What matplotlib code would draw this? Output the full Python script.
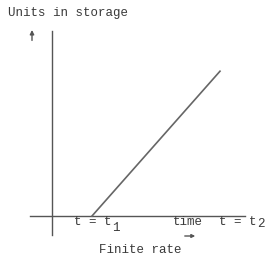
import matplotlib.pyplot as plt

# line of units in storage (finite rate)
t_vals = [1.0, 4.2]
units = [0.0, 3.62]

ink = '#555555'
txt = '#3a3a3a'
plt.rcParams['font.family'] = ['Liberation Mono', 'DejaVu Sans Mono']

fig = plt.figure(figsize=(2.76, 2.68), dpi=100)
ax = fig.add_axes([0, 0, 1, 1])
ax.set_xlim(-1.3, 5.6)
ax.set_ylim(-1.3, 5.4)
ax.axis('off')

# axes drawn by hand
ax.plot([0, 0], [-0.475, 4.625], color=ink, lw=1.0)
ax.plot([-0.55, 4.825], [0, 0], color=ink, lw=1.0)

ax.plot(t_vals, units, color='#666666', lw=1.2)

ax.text(-1.1, 5.075, 'Units in storage', fontsize=9, color=txt, va='center', ha='left')
ax.annotate('', xy=(-0.5, 4.72), xytext=(-0.5, 4.32),
            arrowprops=dict(arrowstyle='-|>', color=ink, lw=1.0, mutation_scale=6))

ax.text(0.55, -0.14, 't = t', fontsize=9, color=txt, va='center', ha='left')
ax.text(1.5, -0.3, '1', fontsize=9, color=txt, va='center', ha='left')
ax.text(3.025, -0.14, 'time', fontsize=9, color=txt, va='center', ha='left')
ax.text(4.18, -0.14, 't = t', fontsize=9, color=txt, va='center', ha='left')
ax.text(5.13, -0.2, '2', fontsize=9, color=txt, va='center', ha='left')
ax.annotate('', xy=(3.65, -0.5), xytext=(3.25, -0.5),
            arrowprops=dict(arrowstyle='-|>', color=ink, lw=1.0, mutation_scale=5))

ax.text(2.2, -0.85, 'Finite rate', fontsize=9, color=txt, va='center', ha='center')

fig.savefig('out.png', dpi=100, facecolor='white')
